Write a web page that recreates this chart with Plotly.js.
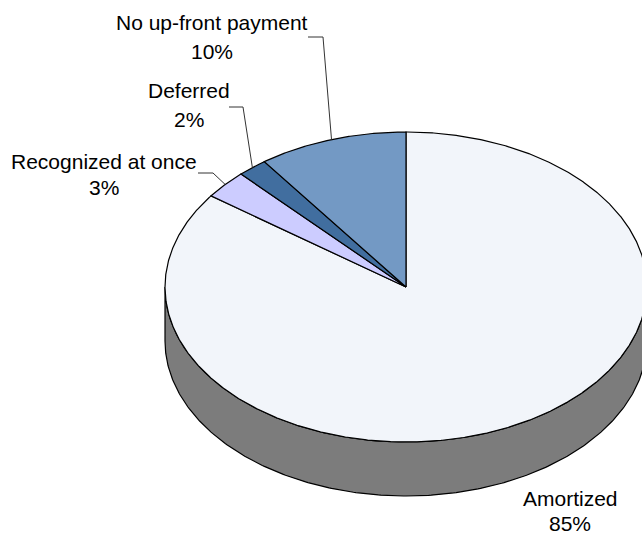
<!DOCTYPE html>
<html>
<head>
<meta charset="utf-8">
<script src="https://cdn.plot.ly/plotly-3.0.1.min.js"></script>
<style>
html,body{margin:0;padding:0;background:#fff;}
#chart{width:642px;height:535px;}
</style>
</head>
<body>
<div id="chart"></div>
<script>
// ---- data ----
const categories = ["Amortized", "Recognized at once", "Deferred", "No up-front payment"];
const values = [85, 3, 2, 10];
const colors = ["#F2F5FA", "#CCCCFF", "#416E9F", "#7399C4"];
const sideColors = ["#7C7C7C", "#A3A3CC", "#34587F", "#5C7A9D"];

// ---- geometry (layout) ----
const W = 642, H = 535;
const cx = 406, cy = 287, rx = 241, ry = 155, depth = 54;
// label anchor positions (name line center, percent line center) and elbow of leader
const labelPos = {
  "Amortized": {x: 570, y: 498, py: 523, leader: false},
  "Recognized at once": {x: 104, y: 161, py: 187, leader: true, hx0: 198, hy: 173, hx1: 213},
  "Deferred": {x: 189, y: 90, py: 119, leader: true, hx0: 229, hy: 107, hx1: 243},
  "No up-front payment": {x: 212, y: 22, py: 51, leader: true, hx0: 308, hy: 37, hx1: 323}
};

function pt(t, dy) { // t: clockwise angle from 12 o'clock (radians)
  return [cx + rx * Math.sin(t), cy - ry * Math.cos(t) + (dy || 0)];
}

const total = values.reduce((a, b) => a + b, 0);
const traces = [];
const annotations = [];
let acc = 0;
const slices = [];
categories.forEach((c, i) => {
  const t0 = acc / total * 2 * Math.PI;
  acc += values[i];
  const t1 = acc / total * 2 * Math.PI;
  slices.push({c, i, t0, t1});
});

// sides (front half only: t between 90deg and 270deg)
slices.forEach(s => {
  const a = Math.max(s.t0, Math.PI / 2), b = Math.min(s.t1, 3 * Math.PI / 2);
  if (b <= a) return;
  const xs = [], ys = [];
  const n = 300;
  for (let k = 0; k <= n; k++) { const p = pt(a + (b - a) * k / n); xs.push(p[0]); ys.push(p[1]); }
  for (let k = n; k >= 0; k--) { const p = pt(a + (b - a) * k / n, depth); xs.push(p[0]); ys.push(p[1]); }
  xs.push(xs[0]); ys.push(ys[0]);
  traces.push({type: "scatter", mode: "lines", x: xs, y: ys, fill: "toself",
    fillcolor: sideColors[s.i], line: {color: "#000", width: 1.2}, hoverinfo: "skip", showlegend: false});
});

// tops
const font = {family: "Liberation Sans, Arial, sans-serif", size: 21, color: "#000"};
slices.forEach(s => {
  const xs = [cx], ys = [cy];
  const n = Math.max(10, Math.round((s.t1 - s.t0) * 200));
  for (let k = 0; k <= n; k++) { const p = pt(s.t0 + (s.t1 - s.t0) * k / n); xs.push(p[0]); ys.push(p[1]); }
  xs.push(cx); ys.push(cy);
  traces.push({type: "scatter", mode: "lines", x: xs, y: ys, fill: "toself",
    fillcolor: colors[s.i], line: {color: "#000", width: 1.2}, hoverinfo: "skip", showlegend: false});

  const lp = labelPos[s.c];
  const pct = Math.round(values[s.i] / total * 100);
  annotations.push({xref: "x", yref: "y", x: lp.x, y: lp.y, text: s.c, showarrow: false, font, xanchor: "center", yanchor: "middle"});
  annotations.push({xref: "x", yref: "y", x: lp.x, y: lp.py, text: pct + "%", showarrow: false, font, xanchor: "center", yanchor: "middle"});
  if (lp.leader) {
    const tm = (s.t0 + s.t1) / 2;
    const e = pt(tm);
    traces.push({type: "scatter", mode: "lines", x: [lp.hx0, lp.hx1, e[0]], y: [lp.hy, lp.hy, e[1]],
      line: {color: "#333", width: 1}, hoverinfo: "skip", showlegend: false});
  }
});

const layout = {
  width: W, height: H,
  margin: {l: 0, r: 0, t: 0, b: 0},
  paper_bgcolor: "#fff", plot_bgcolor: "#fff",
  xaxis: {range: [0, W], visible: false, fixedrange: true},
  yaxis: {range: [H, 0], visible: false, fixedrange: true},
  annotations, showlegend: false
};
Plotly.newPlot("chart", traces, layout, {staticPlot: true, displayModeBar: false});
</script>
</body>
</html>
